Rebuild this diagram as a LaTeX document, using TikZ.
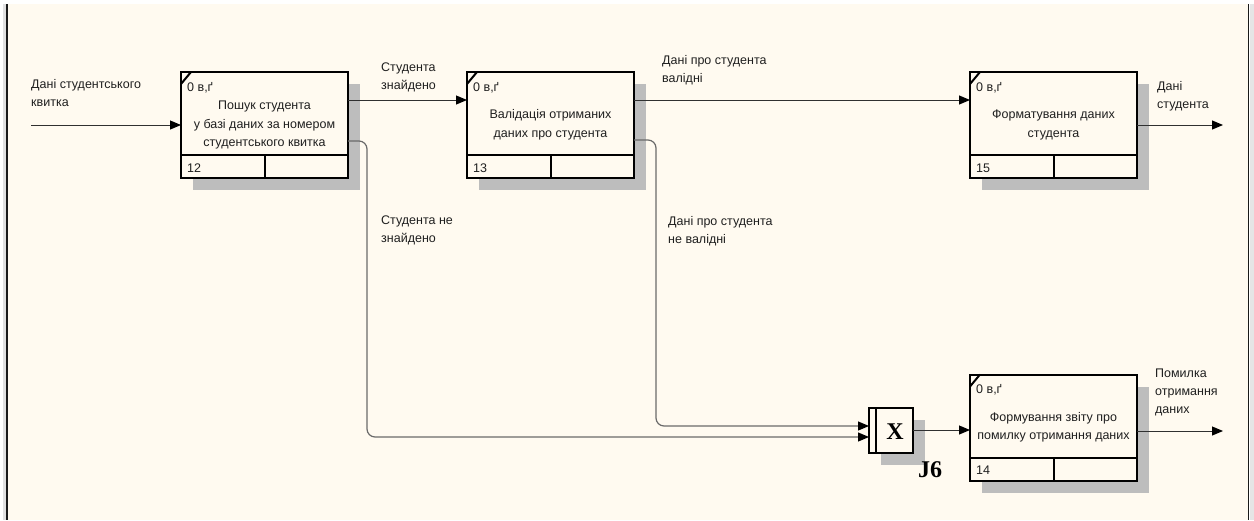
\documentclass[tikz,border=0pt]{standalone}
\usepackage{fontspec}
\setmainfont{Liberation Sans}
\newfontfamily\jfont{Liberation Serif}
\usetikzlibrary{arrows.meta,shadows}
\definecolor{cream}{HTML}{FFFAF0}
\definecolor{lineA}{HTML}{303030}
\definecolor{lineB}{HTML}{6A6A6A}
\definecolor{shade}{HTML}{BDBDBD}
\newcommand\idefbox[5]{%
  \node[fbox] (#1) at (#2,#3) {#4};
  \draw[divider] ([yshift=23pt]#1.south west) -- ([yshift=23pt]#1.south east);
  \draw[divider] ([xshift=84pt,yshift=23pt]#1.south west) -- ([xshift=84pt]#1.south west);
  \draw[divider] ([yshift=-12pt]#1.north west) -- ([xshift=10pt]#1.north west);
  \node[smalltxt] (#1-cost) at ([xshift=6pt,yshift=-19pt]#1.north west) {0 в,ґ};
  \node[smalltxt] (#1-num) at ([xshift=6pt,yshift=6pt]#1.south west) {#5};
}
\begin{document}
\begin{tikzpicture}[x=1pt,y=-1pt,
  fbox/.style={draw=black, line width=2pt, fill=cream, outer sep=0pt, inner sep=0pt,
    minimum width=167pt, minimum height=106pt, align=center,
    font=\fontsize{12.5}{18.5}\selectfont, text=black!88,
    drop shadow={shadow xshift=12pt, shadow yshift=-12pt, opacity=1, fill=shade}},
  jbox/.style={draw=black, line width=2pt, fill=cream, outer sep=0pt, inner sep=0pt,
    minimum width=44pt, minimum height=45pt,
    drop shadow={shadow xshift=12pt, shadow yshift=-12pt, opacity=1, fill=shade}},
  divider/.style={line width=2pt, draw=black},
  smalltxt/.style={anchor=base west, inner sep=0pt, font=\fontsize{12.5}{14}\selectfont, text=black!88},
  lbl/.style={anchor=north west, inner sep=0pt, align=left, font=\fontsize{12.5}{18}\selectfont, text=black!88},
  tip/.style={-{Triangle[length=11pt,width=9pt,color=black]}},
  conn/.style={draw=lineA, line width=1pt, tip},
  connb/.style={draw=lineB, line width=1.2pt, rounded corners=8pt, tip},
  jtxt/.style={inner sep=0pt, font=\jfont\bfseries\fontsize{24}{26}\selectfont}
]
\useasboundingbox (0,0) rectangle (1254,520);
% frame
\fill[white] (0,0) rectangle (1254,520);
\fill[cream] (8,4) rectangle (1248,520);
\fill[black!12] (3,4) rectangle (6,520);
\draw[line width=2pt, black!90] (7,4) -- (7,520);
\draw[line width=1.5pt, black!90] (1248.5,4) -- (1248.5,520);
\fill[black!10] (1250,4) rectangle (1254,520);

% boxes
\idefbox{b1}{264.5}{125}{Пошук студента\\у базі даних за номером\\студентського квитка}{12}
\idefbox{b2}{550.5}{125}{Валідація отриманих\\даних про студента}{13}
\idefbox{b3}{1053.5}{125}{Форматування даних\\студента}{15}
\idefbox{b4}{1053.5}{427.5}{Формування звіту про\\помилку отримання даних}{14}

% junction
\node[jbox] (j6) at (891,430.5) {};
\draw[line width=1.5pt] ([xshift=7pt]j6.north west) -- ([xshift=7pt]j6.south west);
\node[jtxt] (j6-x) at (895,432) {X};
\node[jtxt] (j6-lbl) at (930,470) {J6};

% free ends
\coordinate (in1) at (31,125);
\coordinate (out3) at (1223,125);
\coordinate (out4) at (1223,431);

% connectors
\draw[conn] (in1) -- (b1.west);
\draw[conn] (b1.east |- 0,100) -- (b2.west |- 0,100);
\draw[conn] (b2.east |- 0,100) -- (b3.west |- 0,100);
\draw[conn] (b3.east |- out3) -- (out3);
\draw[connb] (b1.east |- 0,141) -- (367,141) -- (367,437) -- (j6.west |- 0,437);
\draw[connb] (b2.east |- 0,140) -- (656,140) -- (656,426) -- (j6.west |- 0,426);
\draw[conn] (j6.east |- 0,430) -- (b4.west |- 0,430);
\draw[conn] (b4.east |- out4) -- (out4);

% labels
\node[lbl] (l-in) at (31,79) {Дані студентського\\квитка};
\node[lbl] (l-found) at (381,63) {Студента\\знайдено};
\node[lbl] (l-valid) at (662,55) {Дані про студента\\валідні};
\node[lbl] (l-out3) at (1157,81) {Дані\\студента};
\node[lbl] (l-notfound) at (381,216) {Студента не\\знайдено};
\node[lbl] (l-invalid) at (668,216) {Дані про студента\\не валідні};
\node[lbl] (l-err) at (1155,369) {Помилка\\отримання\\даних};
\end{tikzpicture}
\end{document}
